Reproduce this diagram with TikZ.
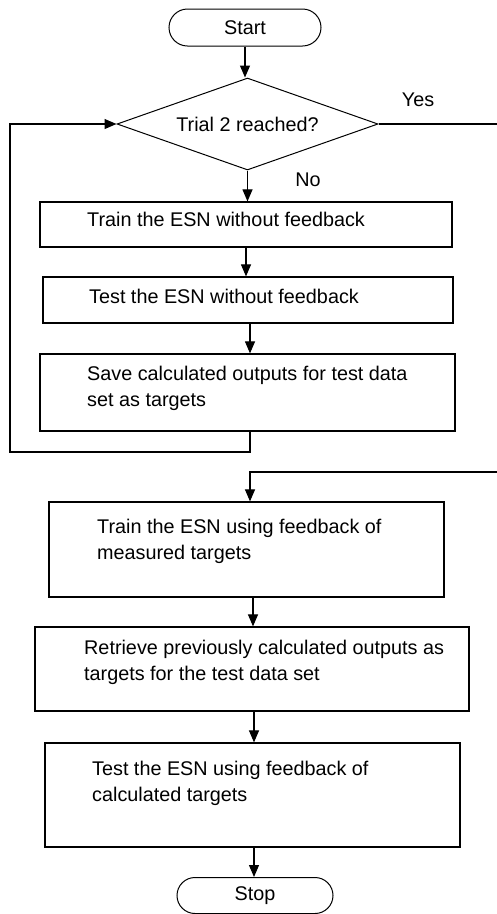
\documentclass[tikz,border=0pt]{standalone}
\usepackage{fontspec}
\setmainfont{Liberation Sans}
\usetikzlibrary{positioning,shapes.geometric,shapes.misc,arrows.meta}

\begin{document}
\begin{tikzpicture}[x=1pt, y=-1pt,
  every node/.style={font=\fontsize{19.8}{26}\selectfont},
  term/.style={draw, rounded rectangle, line width=1pt, minimum width=152pt, minimum height=37pt, inner sep=0pt},
  decision/.style={draw, diamond, aspect=2.84, line width=1pt, minimum width=261pt, minimum height=92pt, inner sep=0pt},
  proc/.style={draw, rectangle, line width=1.2pt, inner sep=0pt},
  txt/.style={anchor=west, align=left, inner sep=0pt},
  arr/.style={line width=1.1pt, -{Triangle[length=12pt,width=10pt]}},
  ln/.style={line width=1.1pt}]
\useasboundingbox (0,0) rectangle (497,914);
\node[term] (start) at (245,27.5) {Start};
\node[decision] (trial) at (247.5,124) {Trial 2 reached?};
\node[proc, minimum width=412pt, minimum height=45pt] (trainA) at (246,224.5) {};
\node[proc, minimum width=410pt, minimum height=46pt] (testA) at (248,300) {};
\node[proc, minimum width=415pt, minimum height=77pt] (save) at (247.5,392.5) {};
\node[proc, minimum width=395pt, minimum height=95pt] (trainB) at (246.5,549.5) {};
\node[proc, minimum width=434pt, minimum height=84pt] (retrieve) at (252,669) {};
\node[proc, minimum width=415pt, minimum height=104pt] (testB) at (252.5,795) {};
\node[term, minimum width=156pt, minimum height=36pt] (stop) at (255,895.5) {Stop};
\node[txt] (trainAtxt) at (87,219) {Train the ESN without feedback};
\node[txt] (testAtxt) at (89,296) {Test the ESN without feedback};
\node[txt] (savetxt) at (87,388.5) {Save calculated outputs for test data\\set as targets};
\node[txt] (trainBtxt) at (97,541.5) {Train the ESN using feedback of\\measured targets};
\node[txt] (retrievetxt) at (84,662) {Retrieve previously calculated outputs as\\targets for the test data set};
\node[txt] (testBtxt) at (92,783) {Test the ESN using feedback of\\calculated targets};
\node (yes) at (418,100) {Yes};
\node (no) at (308,180) {No};
\coordinate (loopc) at (10,452);
\coordinate (yesout) at (497,124);
\coordinate (yesin) at (497,472);
\draw[arr] (start.south) -- (start.south |- trial.north);
\draw[arr] (trial.south) -- (trial.south |- trainA.north);
\draw[arr] (trainA.south) -- (trainA.south |- testA.north);
\draw[arr] ([xshift=2pt]testA.south) -- ([xshift=2pt]testA.south |- save.north);
\draw[arr] ([xshift=2.5pt]save.south) |- (loopc) |- (trial.west);
\draw[ln] (trial.east) -- (yesout);
\draw[arr] (yesin) -| ([xshift=3.5pt]trainB.north);
\draw[arr] ([xshift=6.5pt]trainB.south) -- ([xshift=6.5pt]trainB.south |- retrieve.north);
\draw[arr] ([xshift=2pt]retrieve.south) -- ([xshift=2pt]retrieve.south |- testB.north);
\draw[arr] ([xshift=1.5pt]testB.south) -- ([xshift=1.5pt]testB.south |- stop.north);
\end{tikzpicture}
\end{document}
